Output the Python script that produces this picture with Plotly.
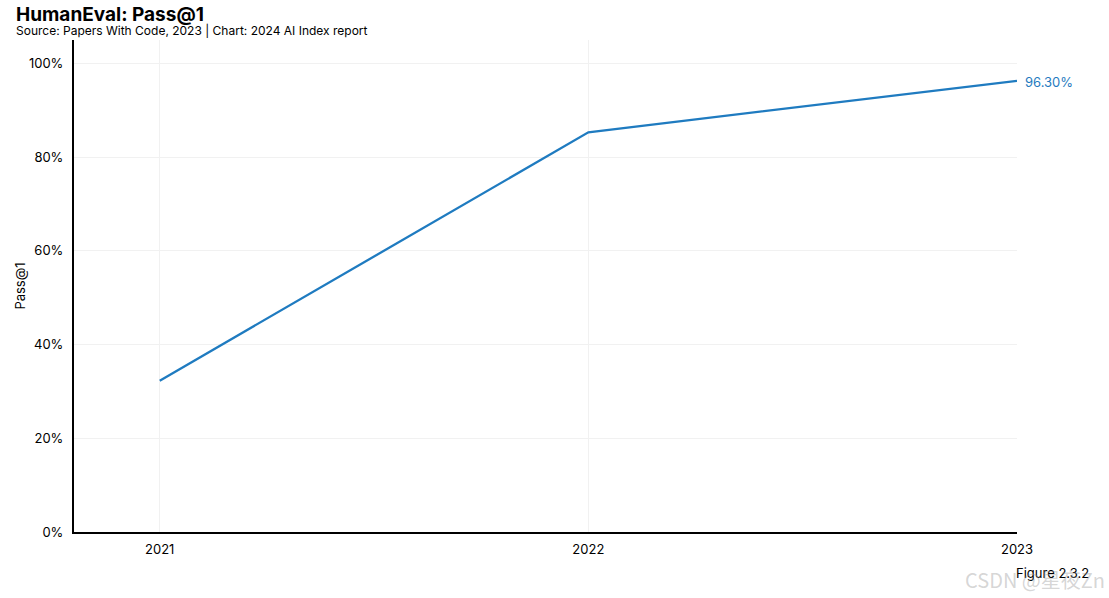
import plotly.graph_objects as go

years = [2021, 2022, 2023]
pass_at_1 = [32.3, 85.3, 96.3]
y_ticks = [0, 20, 40, 60, 80, 100]
y_tick_labels = ["0%", "20%", "40%", "60%", "80%", "100%"]

color = "#1f7bc0"
font = "Inter, Lato, sans-serif"

fig = go.Figure()
fig.add_trace(go.Scatter(
    x=years, y=pass_at_1, mode="lines",
    line=dict(color=color, width=2.3), hoverinfo="x+y", showlegend=False,
))
fig.add_annotation(
    x=years[-1], y=pass_at_1[-1], text=f"{pass_at_1[-1]:.2f}%",
    showarrow=False, xanchor="left", xshift=6, yshift=-1,
    font=dict(color=color, size=13, family=font),
)

fig.update_layout(
    width=1109, height=598,
    margin=dict(l=74, r=92, t=40, b=66, autoexpand=False),
    paper_bgcolor="white", plot_bgcolor="white",
    font=dict(family=font, color="black", size=13),
)
fig.add_annotation(
    text="<span style='font-size:19px'><b>HumanEval: Pass@1</b></span><br>"
         "<span style='font-size:12px'>Source: Papers With Code, 2023 | Chart: 2024 AI Index report</span>",
    xref="paper", yref="paper",
    x=-0.0626, y=1.0772, xanchor="left", yanchor="top", align="left",
    showarrow=False, borderpad=0,
    font=dict(size=11, family=font, color="black"),
)
fig.update_xaxes(
    range=[2020.8, 2023], tickvals=years, ticktext=[str(y) for y in years],
    showgrid=True, gridcolor="#f1f1f1", gridwidth=1,
    showline=True, linecolor="black", linewidth=2,
    ticks="", zeroline=False, ticklabelstandoff=4, automargin=False,
    tickfont=dict(size=13),
)
fig.update_yaxes(
    range=[0, 105], tickvals=y_ticks, ticktext=y_tick_labels,
    showgrid=True, gridcolor="#f1f1f1", gridwidth=1,
    showline=True, linecolor="black", linewidth=2,
    ticks="", zeroline=False, ticklabelstandoff=6, automargin=False,
    title=dict(text="Pass@1", font=dict(size=13), standoff=0),
    tickfont=dict(size=13),
)
fig.add_annotation(
    text="Figure 2.3.2", xref="paper", yref="paper", x=1.0, y=-0.063,
    xanchor="left", yanchor="top", xshift=-3, showarrow=False,
    font=dict(size=13, family=font, color="black"),
)
fig.add_annotation(
    text="CSDN @星夜Zn", xref="paper", yref="paper", x=1.095, y=-0.062,
    xanchor="right", yanchor="top", showarrow=False,
    font=dict(size=20, family="Noto Sans CJK SC, sans-serif", color="rgba(150,150,150,0.4)"),
)

fig.write_html(
    "out.html",
    config={"displayModeBar": False},
    post_script="document.body.style.margin='0';",
)
